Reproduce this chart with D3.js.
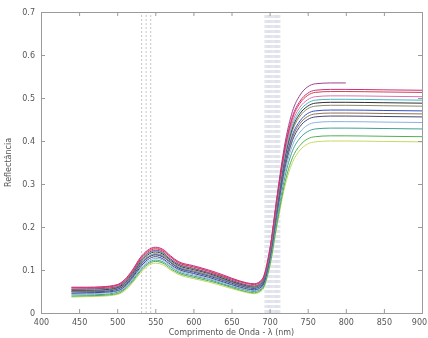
<!DOCTYPE html>
<html>
<head>
<meta charset="utf-8">
<script src="https://cdn.jsdelivr.net/npm/d3@7"></script>
<style>
  body { margin: 0; background: #fff; }
  svg { display: block; filter: blur(0.3px); }
  text { font-family: "DejaVu Sans", sans-serif; fill: #555; }
</style>
</head>
<body>
<div id="chart"></div>
<script>
// wavelengths (nm)
const wavelengths = [440, 460, 480, 500, 510, 520, 530, 540, 550, 560, 570, 580, 600, 620, 640, 660, 680, 690,
                     700, 710, 720, 730, 740, 750, 760, 780, 800, 850, 900];

// reflectance curves
const s1  = [0.060,0.060,0.061,0.066,0.078,0.100,0.128,0.146,0.153,0.148,0.133,0.120,0.110,0.100,0.088,0.075,0.068,0.078,
             0.145,0.271,0.384,0.457,0.493,0.511,0.518,0.520,0.520,0.519,0.518];
const s2  = [0.058,0.058,0.059,0.064,0.075,0.097,0.124,0.142,0.149,0.144,0.130,0.117,0.107,0.097,0.085,0.073,0.066,0.075,
             0.142,0.268,0.380,0.452,0.488,0.506,0.513,0.515,0.515,0.514,0.513];
const s3  = [0.055,0.056,0.057,0.061,0.073,0.094,0.121,0.139,0.146,0.141,0.126,0.114,0.104,0.094,0.083,0.070,0.063,0.073,
             0.143,0.275,0.393,0.469,0.507,0.526,0.533,0.535,0.535];
const s4  = [0.053,0.053,0.054,0.059,0.070,0.091,0.117,0.135,0.142,0.137,0.123,0.111,0.101,0.092,0.080,0.068,0.061,0.070,
             0.134,0.254,0.361,0.430,0.464,0.481,0.488,0.490,0.490,0.489,0.488];
const s5  = [0.051,0.051,0.052,0.057,0.068,0.088,0.114,0.131,0.138,0.134,0.120,0.108,0.098,0.089,0.078,0.066,0.059,0.068,
             0.131,0.250,0.356,0.424,0.458,0.475,0.481,0.483,0.483,0.482,0.481];
const s6  = [0.055,0.055,0.056,0.061,0.072,0.093,0.119,0.137,0.144,0.139,0.125,0.113,0.103,0.094,0.082,0.070,0.062,0.071,
             0.135,0.257,0.366,0.436,0.471,0.488,0.495,0.497,0.497,0.496,0.495];
const s7  = [0.049,0.049,0.050,0.055,0.065,0.085,0.110,0.128,0.135,0.130,0.117,0.105,0.095,0.086,0.075,0.064,0.057,0.065,
             0.128,0.244,0.348,0.414,0.447,0.464,0.470,0.472,0.472,0.471,0.470];
const s8  = [0.046,0.047,0.048,0.052,0.062,0.082,0.106,0.124,0.131,0.126,0.113,0.102,0.092,0.083,0.072,0.061,0.054,0.062,
             0.123,0.236,0.337,0.401,0.434,0.450,0.456,0.458,0.458,0.457,0.456];
const s9  = [0.044,0.045,0.046,0.050,0.060,0.079,0.103,0.120,0.127,0.123,0.110,0.099,0.089,0.080,0.070,0.059,0.052,0.060,
             0.119,0.229,0.327,0.390,0.421,0.437,0.443,0.445,0.445,0.444,0.443];
const s10 = [0.042,0.042,0.043,0.048,0.057,0.076,0.099,0.116,0.123,0.119,0.107,0.096,0.086,0.078,0.067,0.057,0.050,0.057,
             0.115,0.221,0.316,0.377,0.407,0.422,0.428,0.430,0.430,0.429,0.428];
const s11 = [0.039,0.040,0.041,0.045,0.055,0.073,0.096,0.113,0.120,0.116,0.103,0.093,0.083,0.075,0.065,0.054,0.047,0.055,
             0.109,0.211,0.303,0.361,0.390,0.405,0.410,0.412,0.412,0.411,0.410];
const s12 = [0.037,0.038,0.039,0.043,0.052,0.070,0.092,0.109,0.116,0.112,0.100,0.090,0.080,0.072,0.062,0.052,0.045,0.052,
             0.105,0.205,0.294,0.350,0.379,0.393,0.398,0.400,0.400,0.399,0.398];
const s13 = [0.050,0.050,0.051,0.056,0.066,0.086,0.112,0.129,0.136,0.132,0.118,0.106,0.097,0.088,0.077,0.065,0.058,0.067,
             0.128,0.242,0.343,0.408,0.441,0.457,0.463,0.465,0.465,0.464,0.463];
const s14 = [0.059,0.059,0.060,0.065,0.077,0.098,0.126,0.144,0.151,0.146,0.131,0.118,0.108,0.098,0.086,0.074,0.067,0.076,
             0.141,0.264,0.373,0.444,0.479,0.496,0.503,0.505,0.505,0.504,0.503];

const seriesList = [s12, s11, s10, s9, s8, s13, s7, s5, s4, s6, s3, s14, s2, s1];
const seriesColors = ["#c8d860", "#50b050", "#40a090", "#88b0e0", "#404870", "#907050", "#3050c8",
                      "#8a8a70", "#303030", "#40b8c0", "#a04090", "#e070b0", "#d04050", "#c8307a"];

// dashed reference lines (nm)
const markerLines = [532, 538, 544];
const bandLines = [694, 695.5, 697, 698.5, 700, 701.5, 703, 704.5, 706, 707.5, 709, 710.5, 712, 713.5];

const xTicks = [400, 450, 500, 550, 600, 650, 700, 750, 800, 850, 900];
const yTicks = [0, 0.1, 0.2, 0.3, 0.4, 0.5, 0.6, 0.7];

const width = 428, height = 338;
const margin = {top: 12, right: 6, bottom: 25, left: 41};

const svg = d3.select("#chart").append("svg")
  .attr("width", width)
  .attr("height", height);

const x = d3.scaleLinear().domain([400, 900]).range([margin.left, width - margin.right]);
const y = d3.scaleLinear().domain([0, 0.7]).range([height - margin.bottom, margin.top]);

// reference lines
svg.append("g").selectAll("line")
  .data(markerLines)
  .join("line")
  .attr("x1", d => x(d)).attr("x2", d => x(d))
  .attr("y1", y(0)).attr("y2", y(0.7))
  .attr("stroke", "#b8b8b8")
  .attr("stroke-width", 0.8)
  .attr("stroke-dasharray", "2,2");

svg.append("g").selectAll("line")
  .data(bandLines)
  .join("line")
  .attr("x1", d => x(d)).attr("x2", d => x(d))
  .attr("y1", y(0)).attr("y2", y(0.7))
  .attr("stroke", "#c4c8dc")
  .attr("stroke-width", 0.6)
  .attr("stroke-dasharray", "3,2");

// curves
const line = d3.line()
  .x((d, i) => x(wavelengths[i]))
  .y(d => y(d))
  .curve(d3.curveMonotoneX);

svg.append("g").selectAll("path")
  .data(seriesList)
  .join("path")
  .attr("d", line)
  .attr("fill", "none")
  .attr("stroke", (d, i) => seriesColors[i])
  .attr("stroke-width", 1);

// box axes, ticks inside like matlab
const axisColor = "#9a9a9a";
const bottomAxis = svg.append("g")
  .attr("transform", `translate(0,${y(0)})`)
  .call(d3.axisBottom(x).tickValues(xTicks).tickSize(-4).tickPadding(6).tickFormat(d3.format("d")));
const topAxis = svg.append("g")
  .attr("transform", `translate(0,${y(0.7)})`)
  .call(d3.axisTop(x).tickValues(xTicks).tickSize(-4).tickFormat(""));
const leftAxis = svg.append("g")
  .attr("transform", `translate(${x(400)},0)`)
  .call(d3.axisLeft(y).tickValues(yTicks).tickSize(-4).tickPadding(6).tickFormat(d => d === 0 ? "0" : d3.format(".1f")(d)));
const rightAxis = svg.append("g")
  .attr("transform", `translate(${x(900)},0)`)
  .call(d3.axisRight(y).tickValues(yTicks).tickSize(-4).tickFormat(""));

[bottomAxis, topAxis, leftAxis, rightAxis].forEach(a => {
  a.select(".domain").attr("stroke", axisColor);
  a.selectAll(".tick line").attr("stroke", axisColor);
  a.selectAll("text").style("font-size", "8px").style("fill", "#555");
});
// keep the last x label inside the page
bottomAxis.selectAll(".tick text").filter(d => d === 900).attr("dx", -3);

// axis titles
svg.append("text")
  .attr("x", (x(400) + x(900)) / 2)
  .attr("y", height - 3)
  .attr("text-anchor", "middle")
  .style("font-size", "8px")
  .text("Comprimento de Onda - λ (nm)");

svg.append("text")
  .attr("transform", `translate(11,${(y(0) + y(0.7)) / 2}) rotate(-90)`)
  .attr("text-anchor", "middle")
  .style("font-size", "8px")
  .text("Reflectância");
</script>
</body>
</html>
